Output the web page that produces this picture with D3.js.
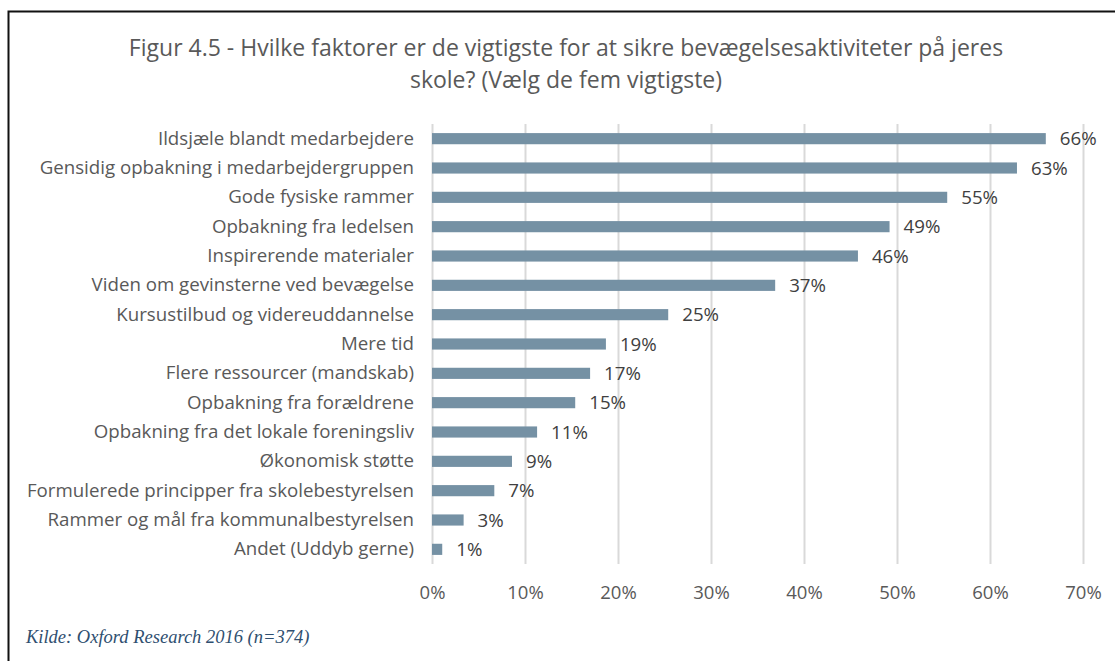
<!DOCTYPE html>
<html lang="en">
<head>
    <meta charset="utf-8" />
    <title>Figur 4.5</title>
    <script src="https://d3js.org/d3.v7.min.js"></script>
    <style>
        body { margin: 0; background: white; }
        text { font-family: 'Open Sans', sans-serif; }
        .grid line { stroke: #d9d9d9; stroke-width: 2; }
        .grid .domain { display: none; }
        .xaxis .domain, .xaxis line { display: none; }
        .xaxis text { fill: #595959; font-size: 18.5px; }
        .yaxis .domain, .yaxis line { display: none; }
        .yaxis text { fill: #595959; font-size: 18.7px; }
    </style>
</head>
<body>
<script>
    // Categories (top to bottom) and share of answers in percent
    const categories = [
        "Ildsjæle blandt medarbejdere",
        "Gensidig opbakning i medarbejdergruppen",
        "Gode fysiske rammer",
        "Opbakning fra ledelsen",
        "Inspirerende materialer",
        "Viden om gevinsterne ved bevægelse",
        "Kursustilbud og videreuddannelse",
        "Mere tid",
        "Flere ressourcer (mandskab)",
        "Opbakning fra forældrene",
        "Opbakning fra det lokale foreningsliv",
        "Økonomisk støtte",
        "Formulerede principper fra skolebestyrelsen",
        "Rammer og mål fra kommunalbestyrelsen",
        "Andet (Uddyb gerne)"
    ];
    // bar lengths (labels are rounded)
    const values = [66.0, 62.9, 55.4, 49.2, 45.8, 36.9, 25.4, 18.7, 17.0, 15.4, 11.3, 8.6, 6.7, 3.4, 1.1];
    const xTicks = [0, 10, 20, 30, 40, 50, 60, 70];

    const width = 1115, height = 661;
    const plot = { left: 432, right: 1083, top: 124, bottom: 564 };

    const svg = d3.select("body").append("svg")
        .attr("width", width)
        .attr("height", height);

    // Frame (top and left edges visible in the source)
    svg.append("rect")
        .attr("x", 8.5).attr("y", 11.5)
        .attr("width", 1115).attr("height", 700)
        .attr("fill", "none")
        .attr("stroke", "#111")
        .attr("stroke-width", 2);

    // Title
    const title = svg.append("text")
        .attr("text-anchor", "middle")
        .attr("fill", "#595959")
        .style("font-size", "23px");
    title.append("tspan").attr("x", 566).attr("y", 56)
        .text("Figur 4.5 - Hvilke faktorer er de vigtigste for at sikre bevægelsesaktiviteter på jeres");
    title.append("tspan").attr("x", 566).attr("y", 88)
        .text("skole? (Vælg de fem vigtigste)");

    const x = d3.scaleLinear().domain([0, 70]).range([plot.left, plot.right]);
    const y = d3.scaleBand().domain(categories).range([plot.top, plot.bottom]).paddingInner(0.62).paddingOuter(0.31);

    // Vertical gridlines
    svg.append("g")
        .attr("class", "grid")
        .attr("transform", `translate(0,${plot.top})`)
        .call(d3.axisBottom(x).tickValues(xTicks).tickSize(plot.bottom - plot.top).tickFormat(""));

    // Bars
    svg.append("g").selectAll("rect")
        .data(values)
        .join("rect")
        .attr("x", x(0))
        .attr("y", (d, i) => y(categories[i]))
        .attr("width", d => x(d) - x(0))
        .attr("height", y.bandwidth())
        .attr("fill", "#7591a4");

    // Value labels
    svg.append("g").selectAll("text")
        .data(values)
        .join("text")
        .attr("x", d => x(d) + 14)
        .attr("y", (d, i) => y(categories[i]) + y.bandwidth() / 2)
        .attr("dy", "0.36em")
        .attr("fill", "#404040")
        .style("font-size", "18.7px")
        .text(d => Math.round(d) + "%");

    // Category axis
    svg.append("g")
        .attr("class", "yaxis")
        .attr("transform", `translate(${plot.left - 6},0)`)
        .call(d3.axisLeft(y).tickSize(0).tickPadding(12));

    // Percent axis
    svg.append("g")
        .attr("class", "xaxis")
        .attr("transform", `translate(0,${plot.bottom})`)
        .call(d3.axisBottom(x).tickValues(xTicks).tickSize(0).tickPadding(22).tickFormat(d => d + "%"));

    // Source note
    svg.append("text")
        .attr("x", 26).attr("y", 643)
        .attr("fill", "#2f4f70")
        .style("font-family", "'Liberation Serif', serif")
        .style("font-style", "italic")
        .style("font-size", "18.5px")
        .text("Kilde: Oxford Research 2016 (n=374)");
</script>
</body>
</html>
